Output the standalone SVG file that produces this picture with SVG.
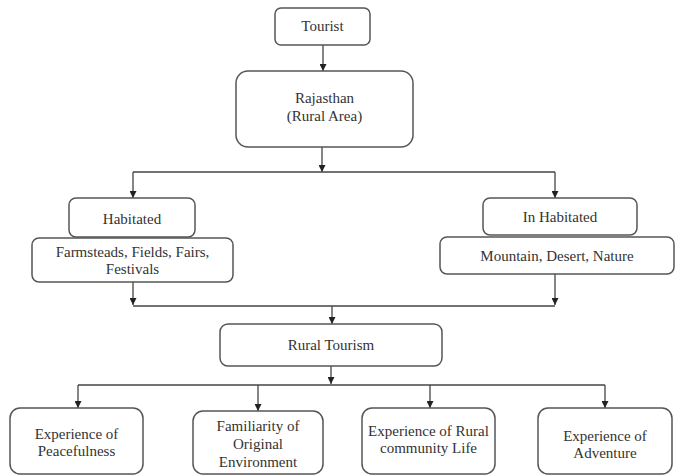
<svg xmlns="http://www.w3.org/2000/svg" width="678" height="476" viewBox="0 0 678 476">
<defs>
<marker id="ah" viewBox="0 0 10 10" refX="10" refY="5" markerWidth="7" markerHeight="7" markerUnits="userSpaceOnUse" orient="auto">
<path d="M0,0 L10,5 L0,10 z" fill="#222"/>
</marker>
<style>
.box{fill:#fff;stroke:#555;stroke-width:1.5}
.t{font-family:'Liberation Serif','Times New Roman',serif;font-size:15px;fill:#333;text-anchor:middle}
.c{fill:none;stroke:#444;stroke-width:1.3}
.a{marker-end:url(#ah)}
</style>
</defs>
<rect width="678" height="476" fill="#fff"/>
<g id="connectors">
<line class="c a" x1="323" y1="45" x2="323" y2="71"/>
<line class="c a" x1="322" y1="147" x2="322" y2="172"/>
<polyline class="c" points="133,172 555,172"/>
<line class="c a" x1="133" y1="172" x2="133" y2="198"/>
<line class="c a" x1="555" y1="172" x2="555" y2="198"/>
<line class="c a" x1="133" y1="282" x2="133" y2="305"/>
<line class="c a" x1="555" y1="274" x2="555" y2="305"/>
<polyline class="c" points="133,306 555,306"/>
<line class="c a" x1="332" y1="306" x2="332" y2="324"/>
<line class="c a" x1="331" y1="366" x2="331" y2="384"/>
<polyline class="c" points="78,385 605,385"/>
<line class="c a" x1="78" y1="385" x2="78" y2="408"/>
<line class="c a" x1="258" y1="385" x2="258" y2="411"/>
<line class="c a" x1="430" y1="385" x2="430" y2="408"/>
<line class="c a" x1="605" y1="385" x2="605" y2="408"/>
</g>
<g id="tourist">
<rect class="box" x="275" y="8" width="95" height="37" rx="6"/>
<text class="t" x="322.5" y="31">Tourist</text>
</g>
<g id="rajasthan">
<rect class="box" x="236" y="71" width="177" height="76" rx="12"/>
<text class="t" x="324.5" y="103">Rajasthan</text>
<text class="t" x="324.5" y="121">(Rural Area)</text>
</g>
<g id="habitated">
<rect class="box" x="69" y="198" width="126" height="39" rx="7"/>
<text class="t" x="132" y="224">Habitated</text>
</g>
<g id="farmsteads">
<rect class="box" x="32" y="238" width="201" height="44" rx="7"/>
<text class="t" x="132.5" y="257">Farmsteads, Fields, Fairs,</text>
<text class="t" x="132.5" y="274">Festivals</text>
</g>
<g id="inhabitated">
<rect class="box" x="483" y="198" width="154" height="37" rx="7"/>
<text class="t" x="560" y="222">In Habitated</text>
</g>
<g id="mountain">
<rect class="box" x="440" y="237" width="234" height="37" rx="7"/>
<text class="t" x="557" y="261">Mountain, Desert, Nature</text>
</g>
<g id="rural-tourism">
<rect class="box" x="220" y="324" width="222" height="42" rx="8"/>
<text class="t" x="331" y="350">Rural Tourism</text>
</g>
<g id="peacefulness">
<rect class="box" x="10" y="408" width="133" height="66" rx="10"/>
<text class="t" x="76.5" y="439">Experience of</text>
<text class="t" x="76.5" y="456">Peacefulness</text>
</g>
<g id="familiarity">
<rect class="box" x="193" y="411" width="130" height="63" rx="10"/>
<text class="t" x="258" y="431">Familiarity of</text>
<text class="t" x="258" y="449">Original</text>
<text class="t" x="258" y="467">Environment</text>
</g>
<g id="community">
<rect class="box" x="362" y="408" width="133" height="66" rx="10"/>
<text class="t" x="428.5" y="436">Experience of Rural</text>
<text class="t" x="428.5" y="453">community Life</text>
</g>
<g id="adventure">
<rect class="box" x="538" y="408" width="134" height="66" rx="10"/>
<text class="t" x="605" y="441">Experience of</text>
<text class="t" x="605" y="458">Adventure</text>
</g>
</svg>
